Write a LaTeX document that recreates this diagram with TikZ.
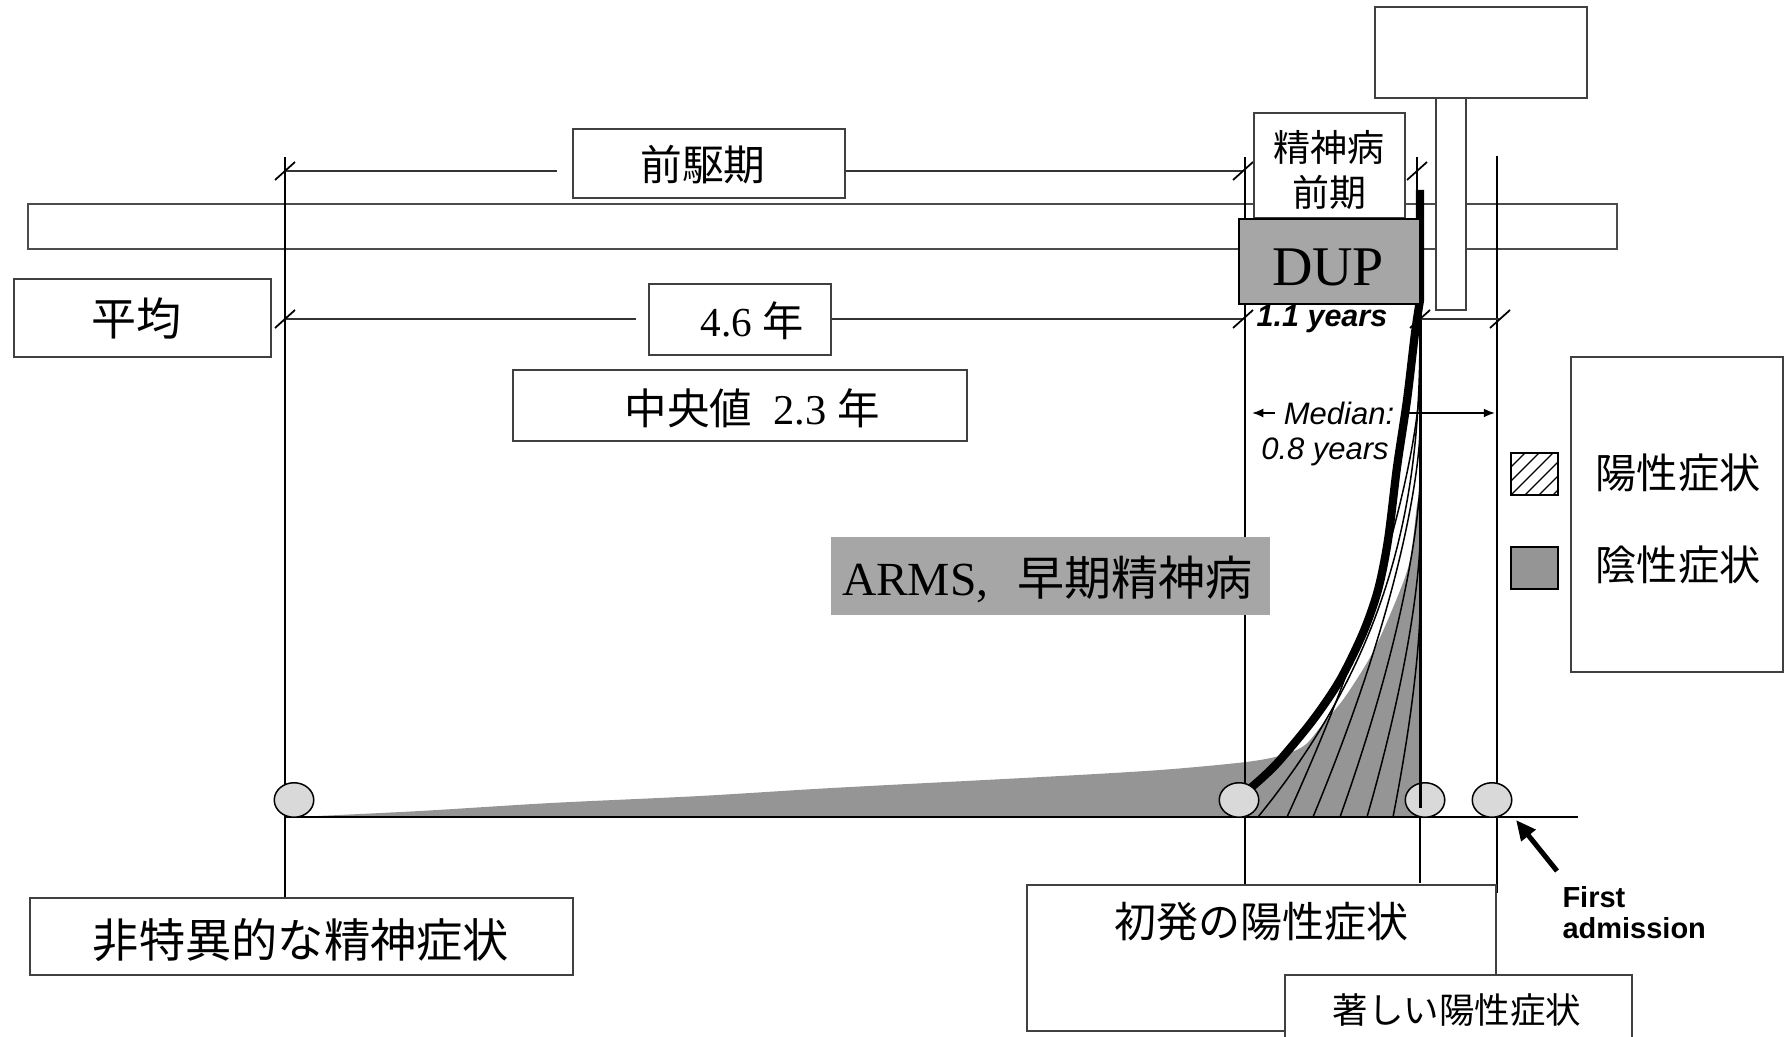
\documentclass[tikz,border=0pt]{standalone}
\usepackage{fontspec}
\setmainfont{Liberation Serif}
\newfontfamily\jp{Noto Sans CJK JP}
\newfontfamily\arial{Liberation Sans}
\usetikzlibrary{arrows.meta,fit,shapes.geometric}
\newcommand\fsz[1]{\fontsize{#1}{#1}\selectfont}
\definecolor{negfill}{HTML}{959595}
\definecolor{boxgray}{HTML}{A6A6A6}
\definecolor{dotfill}{HTML}{D9D9D9}
\begin{document}
\begin{tikzpicture}[x=0.4pt,y=-0.4pt,
  box/.style={draw=black!75,line width=0.6pt,fill=white,inner sep=0pt},
  vline/.style={line width=0.7pt,black},
  dimline/.style={line width=0.8pt,black!80},
  tickmark/.style={line width=0.7pt,black},
  hatchline/.style={line width=0.6pt,black},
  dotnode/.style={ellipse,draw=black,line width=0.6pt,fill=dotfill,minimum width=15.8pt,minimum height=13.8pt,inner sep=0pt},
  medarrow/.style={line width=0.8pt,-{Latex[length=4.5pt,width=3.6pt]}}
]
\fill[white] (0,0) rectangle (1784,1037);
\clip (0,0) rectangle (1784,1037);

% background band and the empty top boxes
\node[box,draw=black!70,line width=0.5pt,fit={(28,204)(1617,249)}] (band) {};
\node[box,fit={(1375,7)(1587,98)}] (flag) {};
\node[box,fit={(1436,98)(1466,310)}] (pole) {};

% negative symptoms (grey area)
\fill[negfill] plot[smooth] coordinates {(296,817) (420,811) (551,803) (700,796) (832,788) (1042,777) (1160,770) (1246,762) (1283,755) (1305,745) (1322,725) (1345,697) (1373,652) (1397,598) (1410,560) (1417,505) (1420,495)} -- (1420,817) -- cycle;

% positive symptoms (hatch lines)
\begin{scope}
\clip (1240,290) rectangle (1420,817);
\draw[hatchline] plot[domain=0:1,samples=30,smooth] ({1420-(1420-1258)*\x*\x*sqrt(\x)},{320+(817-320)*\x});
\foreach \xb/\yt in {1287/380,1313/430,1340/480,1367/540,1393/610}
  \draw[hatchline] plot[domain=0:1,samples=30,smooth] ({1420-(1420-\xb)*\x*sqrt(\x)},{\yt+(817-\yt)*\x});
\end{scope}

% thick onset curve
\draw[line width=3.3pt,line join=round] plot[smooth] coordinates {(1240,797) (1262,778) (1280,760) (1313,720) (1340,680) (1363,633) (1378,590) (1388,540) (1397,467) (1407,400) (1415,333) (1420,300)} -- (1420,190);

% vertical guide lines
\coordinate (vA0) at (285,157); \coordinate (vA1) at (285,897);
\coordinate (vB0) at (1245,157); \coordinate (vB1) at (1245,884);
\draw[vline] (vA0) -- (vA1);
\draw[vline] (vB0) -- (vB1);
\draw[line width=0.6pt] (1417,157) -- (1417,219);
\draw[line width=1pt] (1497,156) -- (1497,784);
\draw[line width=0.8pt] (1497,817) -- (1497,893);

% time axis
\coordinate (axL) at (285,817); \coordinate (axR) at (1578,817);
\draw[line width=1pt] (axL) -- (axR);

% milestones
\node[dotnode] (c1) at (294,800) {};
\node[dotnode] (c2) at (1239,800) {};
\node[dotnode] (c3) at (1425,800) {};
\node[dotnode] (c4) at (1492,800) {};
\draw[line width=1.2pt] (1420,300) -- (1420,808);
\draw[line width=0.7pt] (1420,817) -- (1420,883);

% dimension lines
\node[box,fit={(573,129)(845,198)}] (prodrome) {};
\node[font=\jp\fsz{16.7}] (prodromeT) at (703,165) {前駆期};
\node[box,fit={(649,284)(831,355)}] (mean) {};
\node[font=\fsz{16.5}] (meanT) at (752,321) {4.6 {\jp 年}};
\coordinate (tA) at (285,171); \coordinate (tB) at (1243,171); \coordinate (tC) at (1417,171);
\coordinate (mA) at (285,319); \coordinate (mB) at (1243,319); \coordinate (mC) at (1420,319); \coordinate (mD) at (1500,319);
\draw[dimline,shorten >=6pt] (tA) -- (tA -| prodrome.west);
\draw[dimline] (tA -| prodrome.east) -- (tB);
\draw[dimline,shorten >=5pt] (mA) -- (mA -| mean.west);
\draw[dimline] (mA -| mean.east) -- (mB);
\draw[dimline] (mC) -- (mD);
\foreach \c in {tA,tB,tC,mA,mB,mC,mD}
  \draw[tickmark] ([xshift=-4pt,yshift=-3.6pt]\c) -- ([xshift=4pt,yshift=3.6pt]\c);

% label boxes
\node[box,fit={(14,279)(271,357)}] (avg) {};
\node[font=\jp\fsz{18}] (avgT) at (136,318) {平均};
\node[box,fit={(513,370)(967,441)}] (med) {};
\node[font=\fsz{17}] (medianT) at (752,408) {{\jp 中央値}\ \ 2.3 {\jp 年}};
\node[box,fit={(1254,113)(1405,218)}] (prepsy) {};
\node[font=\jp\fontsize{14.8}{18}\selectfont,align=center] (prepsyT) at (1329,170) {精神病\\前期};
\node[box,draw=black,line width=0.8pt,fill=boxgray,fit={(1239,219)(1420,304)}] (dup) {};
\node[font=\fsz{22.4}] (dupT) at (1328,267) {DUP};
\node[fill=boxgray,inner sep=0pt,fit={(831,537)(1270,615)}] (arms) {};
\node[font=\fsz{19}] (armsT) at (1047,579) {ARMS,\hspace{0.6em}{\jp\fsz{18.8}早期精神病}};
\node[box,fit={(30,898)(573,975)}] (nonspec) {};
\node[font=\jp\fsz{18.5}] (nonspecT) at (301,940) {非特異的な精神症状};
\node[box,fit={(1027,885)(1496,1031)}] (firstpos) {};
\node[font=\jp\fsz{16.8}] (firstposT) at (1261,922) {初発の陽性症状};
\node[box,fit={(1285,975)(1632,1045)}] (marked) {};
\node[font=\jp\fsz{14.2}] (markedT) at (1457,1010) {著しい陽性症状};

% legend
\node[box,fit={(1571,357)(1783,672)}] (legend) {};
\node[font=\jp\fsz{16.5}] (posT) at (1678,473) {陽性症状};
\node[font=\jp\fsz{16.5}] (negT) at (1678,565) {陰性症状};
\begin{scope}
\clip (1511,453) rectangle (1558,495);
\foreach \d in {-28,-14,...,42} \draw[line width=0.5pt] ({1511+\d},495) -- ({1553+\d},453);
\end{scope}
\node[draw=black,line width=0.7pt,inner sep=0pt,fit={(1511,453)(1558,495)}] (posKey) {};
\node[draw=black,line width=0.7pt,fill=negfill,inner sep=0pt,fit={(1511,547)(1558,589)}] (negKey) {};

% English annotations
\node[font=\arial\bfseries\itshape\fsz{12.2}] (dupyears) at (1322,319) {1.1 years};
\node[font=\arial\itshape\fsz{12.4}] (medT) at (1339,413) {Median:};
\node[font=\arial\itshape\fsz{12.4}] (medY) at (1325,452) {0.8 years};
\coordinate (medL) at (1252,413); \coordinate (medR0) at (1405,413); \coordinate (medR) at (1495,413);
\draw[medarrow] (medT.west) -- (medL);
\draw[medarrow] (medR0) -- (medR);

\node[font=\arial\bfseries\fontsize{11.6}{12.4}\selectfont,align=left,anchor=north west,inner sep=0pt] (fa) at (1562,886) {First\\admission};
\coordinate (faTip) at (1516,820);
\draw[line width=2pt,-{Triangle[length=8pt,width=7pt]}] ([xshift=-2pt,yshift=6pt]fa.north west) -- (faTip);
\end{tikzpicture}
\end{document}
